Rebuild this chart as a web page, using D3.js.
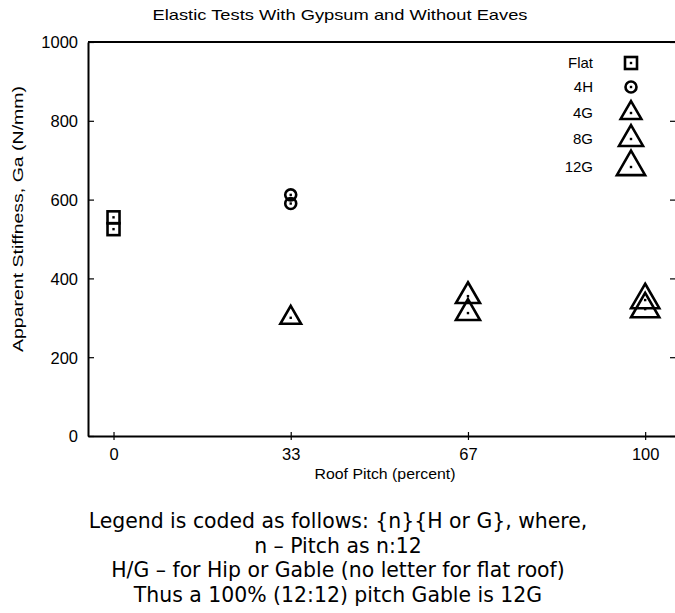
<!DOCTYPE html>
<html>
<head>
<meta charset="utf-8">
<script src="https://cdn.jsdelivr.net/npm/d3@7"></script>
<style>
  body { margin: 0; background: #fff; }
  svg { display: block; }
  .axis text { font-family: "Liberation Sans", Arial, sans-serif; font-size: 16.5px; fill: #000; }
  .axis path, .axis line { stroke: #000; }
  .title { font-family: "Liberation Sans", Arial, sans-serif; font-size: 15px; }
  .label_title { font-family: "Liberation Sans", Arial, sans-serif; font-size: 15px; }
  .caption { font-family: "DejaVu Sans", "Open Sans", sans-serif; font-size: 17px; }
</style>
</head>
<body>
<svg id="chart" width="675" height="613"></svg>
<script>
// data
let xTicks = [0, 33.33, 66.67, 100],
  xTickLabels = ["0", "33", "67", "100"],
  yTicks = [0, 200, 400, 600, 800, 1000];

let flatPitch = [0, 0], flatGa = [555, 525],
  hip4Pitch = [33.33, 33.33], hip4Ga = [612, 590],
  gable4Pitch = [33.33], gable4Ga = [300],
  gable8Pitch = [66.67, 66.67], gable8Ga = [355, 312],
  gable12Pitch = [100, 100], gable12Ga = [345, 322];

let legendNames = ["Flat", "4H", "4G", "8G", "12G"];

let captionLines = [
  "Legend is coded as follows: {n}{H or G}, where,",
  "n \u2013 Pitch as n:12",
  "H/G \u2013 for Hip or Gable (no letter for flat roof)",
  "Thus a 100% (12:12) pitch Gable is 12G"
];

let width = 675,
  height = 613,
  margins = {left: 88, right: -1, top: 42, bottom: 177};

let svg = d3.select("#chart");

let scales = {
  x: d3.scaleLinear().domain([-4.8, 105.8]).range([margins.left, width - margins.right]),
  y: d3.scaleLinear().domain([0, 1000]).range([height - margins.bottom, margins.top])
};

// marker shapes, keyed by legend name
let markers = {
  "Flat": {shape: "square", size: 12},
  "4H": {shape: "circle", size: 5.5},
  "4G": {shape: "triangle", size: 185},
  "8G": {shape: "triangle", size: 250},
  "12G": {shape: "triangle", size: 345}
};

function drawMarker(g, name) {
  let m = markers[name];
  if (m.shape == "square") {
    g.append("rect")
      .attr("x", -m.size / 2).attr("y", -m.size / 2)
      .attr("width", m.size).attr("height", m.size)
      .attr("fill", "none").attr("stroke", "#000").attr("stroke-width", 2.6);
  } else if (m.shape == "circle") {
    g.append("circle").attr("r", m.size)
      .attr("fill", "none").attr("stroke", "#000").attr("stroke-width", 2.6);
  } else {
    g.append("path").attr("d", d3.symbol(d3.symbolTriangle).size(m.size)())
      .attr("fill", "none").attr("stroke", "#000").attr("stroke-width", 2.6);
  }
  g.append("rect").attr("x", -1.2).attr("y", -1.2).attr("width", 2.4).attr("height", 2.4).attr("fill", "#000");
}

// stretch a text to a measured width
function fit(sel, len) {
  sel.attr("textLength", len).attr("lengthAdjust", "spacingAndGlyphs");
}

// axes
let x_axis = svg.append("g").attr("class", "axis")
  .attr("transform", `translate(0, ${scales.y(0)})`)
  .call(d3.axisBottom(scales.x).tickValues(xTicks).tickSizeOuter(0)
    .tickFormat((d, i) => xTickLabels[i]).tickPadding(6));
x_axis.selectAll(".tick line").attr("y1", -4).attr("y2", 4).attr("stroke-width", 1.2);
x_axis.select(".domain").attr("stroke-width", 2);

let y_axis = svg.append("g").attr("class", "axis")
  .attr("transform", `translate(${margins.left}, 0)`)
  .call(d3.axisLeft(scales.y).tickValues(yTicks).tickSizeInner(-6).tickSizeOuter(0)
    .tickFormat(d3.format("d")).tickPadding(10));
y_axis.select(".domain").attr("stroke-width", 2);
y_axis.selectAll(".tick line").attr("stroke-width", 1.2);
y_axis.selectAll(".tick text").attr("dy", "0.36em");

let y_right = svg.append("g").attr("class", "axis")
  .attr("transform", `translate(${width - margins.right}, 0)`)
  .call(d3.axisRight(scales.y).tickValues(yTicks).tickSizeInner(-6).tickSizeOuter(0).tickFormat(""));
y_right.selectAll(".tick line").attr("stroke-width", 1.2);

svg.append("line")
  .attr("x1", margins.left).attr("x2", width)
  .attr("y1", scales.y(1000)).attr("y2", scales.y(1000))
  .attr("stroke", "#000").attr("stroke-width", 2);

// points
let series = [
  {name: "Flat", x: flatPitch, y: flatGa},
  {name: "4H", x: hip4Pitch, y: hip4Ga},
  {name: "4G", x: gable4Pitch, y: gable4Ga},
  {name: "8G", x: gable8Pitch, y: gable8Ga},
  {name: "12G", x: gable12Pitch, y: gable12Ga}
];
series.forEach(s => {
  s.x.forEach((xv, i) => {
    let g = svg.append("g").attr("transform", `translate(${scales.x(xv)}, ${scales.y(s.y[i])})`);
    drawMarker(g, s.name);
  });
});

// legend
let legendY = [63, 87, 113, 139, 167];
legendNames.forEach((name, i) => {
  svg.append("text").attr("class", "label_title")
    .attr("x", 593).attr("y", legendY[i]).attr("dy", "0.35em")
    .attr("text-anchor", "end").text(name);
  let g = svg.append("g").attr("transform", `translate(631, ${legendY[i]})`);
  drawMarker(g, name);
});

// titles
svg.append("text").attr("class", "title")
  .attr("x", 340).attr("y", 20).attr("text-anchor", "middle")
  .text("Elastic Tests With Gypsum and Without Eaves")
  .call(fit, 375);
svg.append("text").attr("class", "label_title")
  .attr("x", 385).attr("y", 479).attr("text-anchor", "middle")
  .text("Roof Pitch (percent)")
  .call(fit, 141);
svg.append("text").attr("class", "label_title")
  .attr("text-anchor", "middle")
  .attr("transform", `translate(23, 219)rotate(-90)`)
  .text("Apparent Stiffness, Ga (N/mm)")
  .call(fit, 266);

// caption below the chart, one font size for all lines, sized so the
// third line is as wide as in the picture
let caption = svg.append("g").attr("class", "caption");
let captionTexts = caption.selectAll("text").data(captionLines).enter()
  .append("text")
  .attr("x", 338)
  .attr("y", (d, i) => 528 + i * 24.6)
  .attr("text-anchor", "middle")
  .text(d => d);
let w3 = captionTexts.nodes()[2].getComputedTextLength();
let capSize = 17 * 454 / w3;
caption.style("font-size", capSize + "px");
captionTexts.style("font-size", capSize + "px");
</script>
</body>
</html>
